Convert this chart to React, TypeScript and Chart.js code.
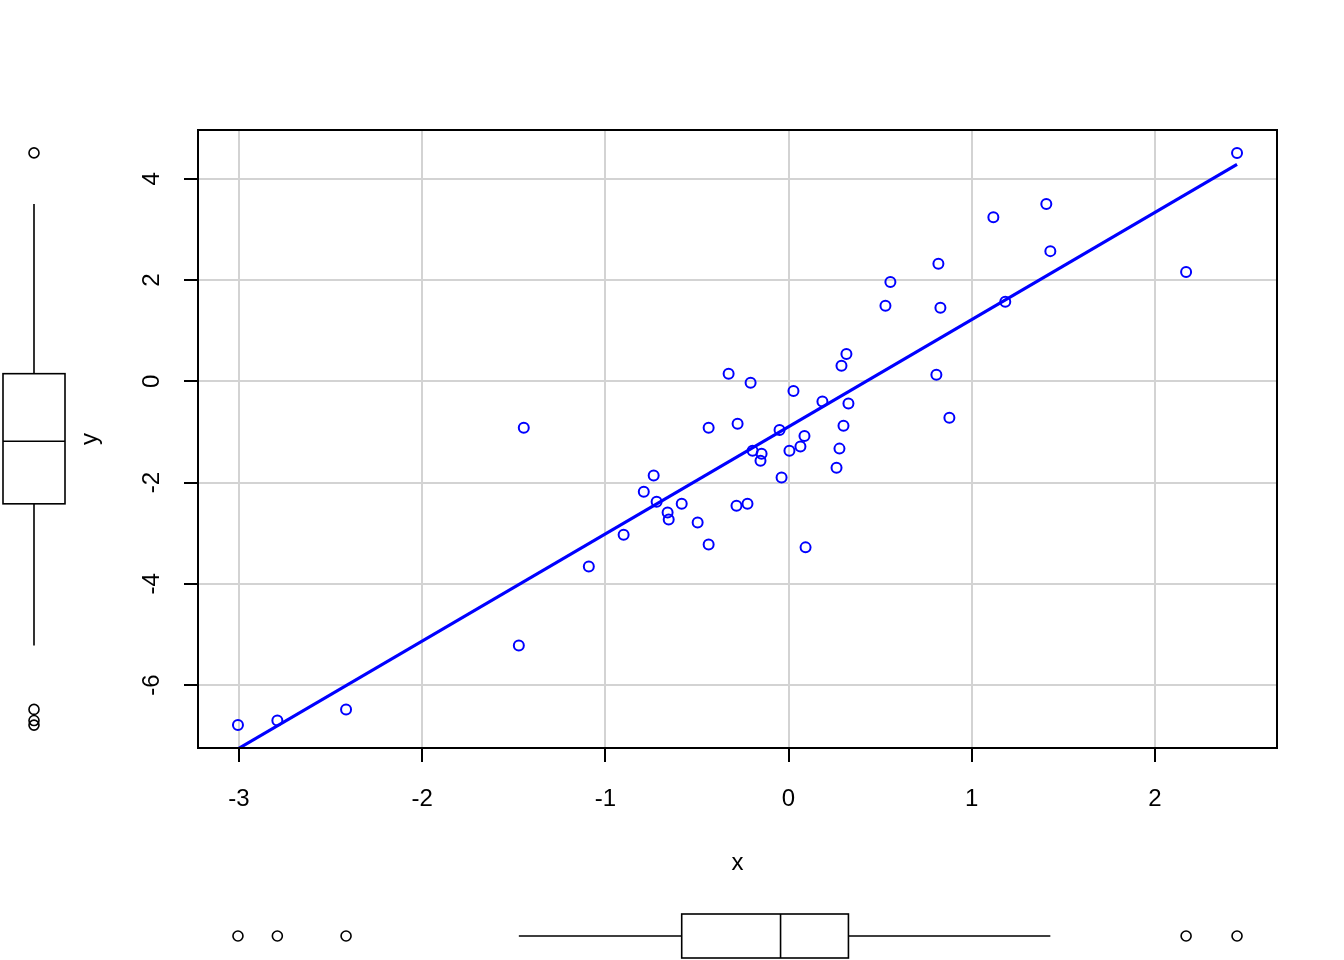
import { useEffect, useRef } from "react";
import { Chart, registerables } from "chart.js";

Chart.register(...registerables);

const xValues = [
  -3.005, -2.79, -2.415, -1.472, -1.445, -1.09, -0.9, -0.79, -0.736, -0.72,
  -0.66, -0.654, -0.583, -0.496, -0.436, -0.436, -0.327, -0.278, -0.284, -0.224,
  -0.207, -0.196, -0.147, -0.153, -0.049, -0.038, 0.005, 0.027, 0.065, 0.087,
  0.093, 0.185, 0.262, 0.278, 0.289, 0.3, 0.316, 0.327, 0.529, 0.556,
  0.807, 0.818, 0.829, 0.878, 1.118, 1.183, 1.407, 1.429, 2.17, 2.448,
];
const yValues = [
  -6.79, -6.7, -6.48, -5.22, -0.92, -3.66, -3.03, -2.18, -1.86, -2.38,
  -2.59, -2.73, -2.42, -2.79, -0.92, -3.225, 0.15, -0.84, -2.46, -2.42,
  -0.03, -1.37, -1.43, -1.57, -0.96, -1.9, -1.37, -0.19, -1.29, -1.08,
  -3.28, -0.4, -1.71, -1.33, 0.306, -0.88, 0.54, -0.44, 1.49, 1.96,
  0.128, 2.32, 1.45, -0.72, 3.24, 1.57, 3.5, 2.57, 2.16, 4.51,
];
const xTicks = [-3, -2, -1, 0, 1, 2];
const yTicks = [-6, -4, -2, 0, 2, 4];
const xTitle = "x";
const yTitle = "y";

const FONT = "'Liberation Sans', Arial, Helvetica, sans-serif";
const FONT_SIZE = 24;

function fivenum(values: number[]) {
  const v = [...values].sort((a, b) => a - b);
  const n = v.length;
  const n4 = Math.floor((n + 3) / 2) / 2;
  const d = [1, n4, (n + 1) / 2, n + 1 - n4, n];
  return d.map((p) => 0.5 * (v[Math.floor(p) - 1] + v[Math.ceil(p) - 1]));
}

function boxStats(values: number[]) {
  const [, q1, med, q3] = fivenum(values);
  const iqr = q3 - q1;
  const lo = q1 - 1.5 * iqr;
  const hi = q3 + 1.5 * iqr;
  const inside = values.filter((a) => a >= lo && a <= hi);
  return {
    q1,
    med,
    q3,
    wlo: Math.min(...inside),
    whi: Math.max(...inside),
    out: values.filter((a) => a < lo || a > hi),
  };
}

function linFit(xs: number[], ys: number[]) {
  const n = xs.length;
  const mx = xs.reduce((s, a) => s + a, 0) / n;
  const my = ys.reduce((s, a) => s + a, 0) / n;
  let sxy = 0;
  let sxx = 0;
  for (let i = 0; i < n; i++) {
    sxy += (xs[i] - mx) * (ys[i] - my);
    sxx += (xs[i] - mx) ** 2;
  }
  const b = sxy / sxx;
  return { a: my - b * mx, b };
}

function paddedRange(values: number[]) {
  const mn = Math.min(...values);
  const mx = Math.max(...values);
  const r = mx - mn;
  return { min: mn - 0.04 * r, max: mx + 0.04 * r };
}

const framePlugin = {
  id: "rframe",
  afterDraw(chart: any) {
    const { ctx, chartArea: a, scales } = chart;
    const xs = scales.x;
    const ys = scales.y;
    ctx.save();
    ctx.strokeStyle = "#000";
    ctx.lineWidth = 2;
    ctx.strokeRect(a.left, a.top, a.right - a.left, a.bottom - a.top);

    ctx.lineWidth = 1.6;
    // bottom boxplot of x
    const bx = boxStats(xValues);
    const cy = 936;
    const hh = 22;
    const px = (v: number) => xs.getPixelForValue(v);
    ctx.beginPath();
    ctx.moveTo(px(bx.wlo), cy);
    ctx.lineTo(px(bx.q1), cy);
    ctx.moveTo(px(bx.q3), cy);
    ctx.lineTo(px(bx.whi), cy);
    ctx.stroke();
    ctx.strokeRect(px(bx.q1), cy - hh, px(bx.q3) - px(bx.q1), 2 * hh);
    ctx.beginPath();
    ctx.moveTo(px(bx.med), cy - hh);
    ctx.lineTo(px(bx.med), cy + hh);
    ctx.stroke();
    bx.out.forEach((v) => {
      ctx.beginPath();
      ctx.arc(px(v), cy, 5, 0, Math.PI * 2);
      ctx.stroke();
    });

    // left boxplot of y
    const by = boxStats(yValues);
    const cx = 34;
    const hw = 31;
    const py = (v: number) => ys.getPixelForValue(v);
    ctx.beginPath();
    ctx.moveTo(cx, py(by.wlo));
    ctx.lineTo(cx, py(by.q1));
    ctx.moveTo(cx, py(by.q3));
    ctx.lineTo(cx, py(by.whi));
    ctx.stroke();
    ctx.strokeRect(cx - hw, py(by.q3), 2 * hw, py(by.q1) - py(by.q3));
    ctx.beginPath();
    ctx.moveTo(cx - hw, py(by.med));
    ctx.lineTo(cx + hw, py(by.med));
    ctx.stroke();
    by.out.forEach((v) => {
      ctx.beginPath();
      ctx.arc(cx, py(v), 5, 0, Math.PI * 2);
      ctx.stroke();
    });
    ctx.restore();
  },
};

export default function App() {
  const ref = useRef<HTMLCanvasElement | null>(null);

  useEffect(() => {
    if (!ref.current) return;
    const xr = paddedRange(xValues);
    const yr = paddedRange(yValues);
    const fit = linFit(xValues, yValues);
    const xmin = Math.min(...xValues);
    const xmax = Math.max(...xValues);
    const points = xValues.map((x, i) => ({ x, y: yValues[i] }));
    const line = [
      { x: xmin, y: fit.a + fit.b * xmin },
      { x: xmax, y: fit.a + fit.b * xmax },
    ];

    const tickFont = { family: FONT, size: FONT_SIZE };

    const chart = new Chart(ref.current, {
      type: "scatter",
      data: {
        datasets: [
          {
            data: points,
            pointRadius: 5,
            pointBorderWidth: 2,
            pointBorderColor: "#0000FF",
            pointBackgroundColor: "rgba(0,0,0,0)",
            pointHoverRadius: 5,
            showLine: false,
          },
          {
            data: line,
            showLine: true,
            borderColor: "#0000FF",
            borderWidth: 3.2,
            pointRadius: 0,
            pointHoverRadius: 0,
          },
        ],
      },
      options: {
        responsive: false,
        animation: false,
        events: [],
        layout: { padding: { top: 130, right: 67, left: 0, bottom: 0 } },
        plugins: {
          legend: { display: false },
          tooltip: { enabled: false },
        },
        scales: {
          x: {
            type: "linear",
            min: xr.min,
            max: xr.max,
            afterBuildTicks: (s: any) => {
              s.ticks = xTicks.map((v) => ({ value: v }));
            },
            afterFit: (s: any) => {
              s.height = 212;
            },
            grid: {
              color: "#D3D3D3",
              lineWidth: 2,
              tickColor: "#000",
              tickLength: 14,
              tickWidth: 2,
              drawTicks: true,
            },
            border: { display: false },
            ticks: {
              color: "#000",
              font: tickFont,
              padding: 23,
              maxRotation: 0,
              minRotation: 0,
              callback: (v: any) => String(v),
            },
            title: {
              display: true,
              text: xTitle,
              color: "#000",
              font: tickFont,
              padding: { top: 0, bottom: 82 },
            },
          },
          y: {
            type: "linear",
            min: yr.min,
            max: yr.max,
            afterBuildTicks: (s: any) => {
              s.ticks = yTicks.map((v) => ({ value: v }));
            },
            afterFit: (s: any) => {
              s.width = 198;
            },
            grid: {
              color: "#D3D3D3",
              lineWidth: 2,
              tickColor: "#000",
              tickLength: 14,
              tickWidth: 2,
              drawTicks: true,
            },
            border: { display: false },
            ticks: {
              color: "#000",
              font: tickFont,
              padding: 21,
              minRotation: 90,
              maxRotation: 90,
              crossAlign: "center",
              callback: (v: any) => String(v),
            },
            title: {
              display: true,
              text: yTitle,
              color: "#000",
              font: tickFont,
              padding: { top: 76, bottom: 0 },
            },
          },
        },
      },
      plugins: [framePlugin],
    } as any);

    return () => chart.destroy();
  }, []);

  return (
    <div
      style={{
        position: "absolute",
        left: 0,
        top: 0,
        width: 1344,
        height: 960,
        background: "#fff",
      }}
    >
      <canvas ref={ref} width={1344} height={960} />
    </div>
  );
}
